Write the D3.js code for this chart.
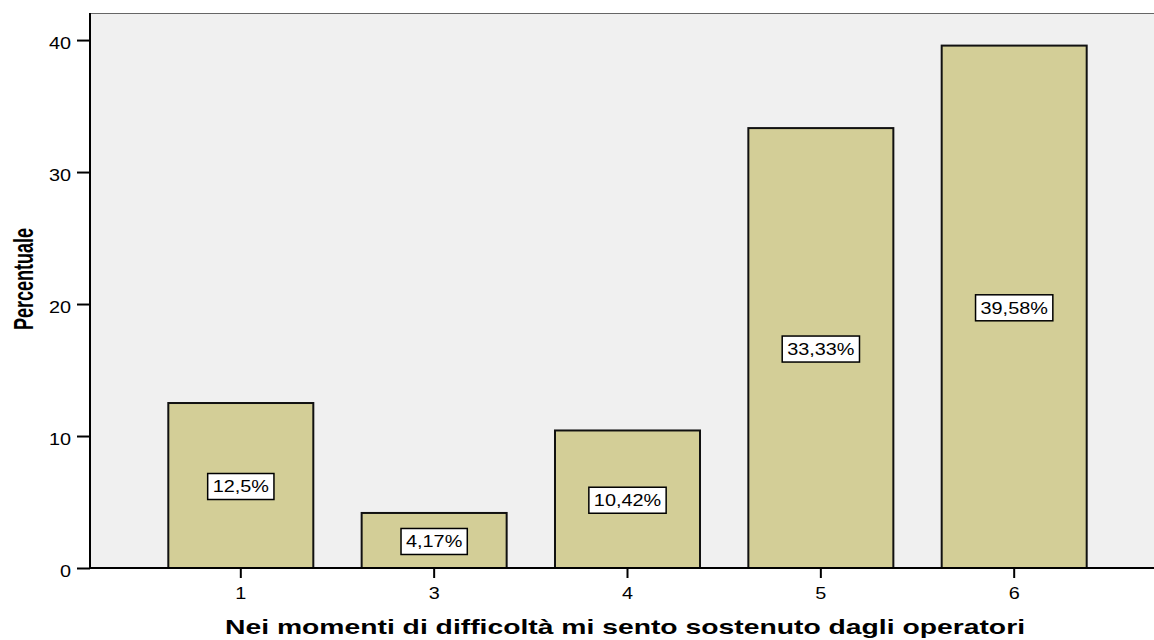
<!DOCTYPE html>
<html>
<head>
<meta charset="utf-8">
<script src="https://cdn.jsdelivr.net/npm/d3@7"></script>
<style>
  body { margin: 0; background: #fff; }
  text { font-family: "Liberation Sans", Arial, sans-serif; }
</style>
</head>
<body>
<div id="chart"></div>
<script>
// valori
const categorie = ["1", "3", "4", "5", "6"];
const percentuali = [12.5, 4.17, 10.42, 33.33, 39.58];
const etichette = ["12,5%", "4,17%", "10,42%", "33,33%", "39,58%"];
const yTicks = [0, 10, 20, 30, 40];

const width = 1154, height = 640;
const mLeft = 90, mTop = 13, mBottom = 568, mRight = 1165;
const stretch = 1.24; // il testo originale è allargato in orizzontale

// allarga il testo in orizzontale mantenendo l'ancoraggio
function allarga(sel, k) {
    sel.each(function() {
        const len = this.getComputedTextLength();
        d3.select(this)
            .attr("textLength", len * k)
            .attr("lengthAdjust", "spacingAndGlyphs");
    });
}

const svg = d3.select("#chart").append("svg")
    .attr("width", width)
    .attr("height", height);

const x = d3.scaleBand()
    .domain(categorie)
    .range([mLeft, mRight])
    .paddingInner(0.25)
    .paddingOuter(0.405);

const y = d3.scaleLinear()
    .domain([0, 42.05])
    .range([mBottom, mTop]);

// sfondo area grafico
svg.append("rect")
    .attr("x", mLeft).attr("y", mTop)
    .attr("width", width - mLeft).attr("height", mBottom - mTop)
    .attr("fill", "#f0f0f0");

svg.append("line")
    .attr("x1", mLeft).attr("x2", width)
    .attr("y1", mTop + 0.5).attr("y2", mTop + 0.5)
    .attr("stroke", "#666").attr("stroke-width", 1);

const data = categorie.map((c, i) => ({ cat: c, val: percentuali[i], lab: etichette[i] }));

svg.selectAll("rect.bar")
    .data(data)
    .enter().append("rect")
    .attr("class", "bar")
    .attr("x", d => x(d.cat))
    .attr("y", d => y(d.val))
    .attr("width", x.bandwidth())
    .attr("height", d => y(0) - y(d.val))
    .attr("fill", "#d3ce97")
    .attr("stroke", "#111")
    .attr("stroke-width", 2);

// etichette dentro le barre
const lab = svg.selectAll("g.lab")
    .data(data)
    .enter().append("g")
    .attr("class", "lab")
    .attr("transform", d => "translate(" + (x(d.cat) + x.bandwidth() / 2) + "," + (y(d.val / 2) + 1) + ")");

lab.append("text")
    .attr("text-anchor", "middle")
    .attr("dy", "0.36em")
    .style("font-size", "16px")
    .attr("fill", "#000")
    .text(d => d.lab)
    .call(allarga, stretch);

lab.each(function() {
    const g = d3.select(this);
    const w = g.select("text").node().getBBox().width;
    g.insert("rect", "text")
        .attr("x", -w / 2 - 5)
        .attr("y", -13)
        .attr("width", w + 10)
        .attr("height", 26)
        .attr("fill", "#fff")
        .attr("stroke", "#000")
        .attr("stroke-width", 1.5);
});

// asse y
const yAxis = svg.append("g")
    .attr("transform", "translate(" + mLeft + ",0)")
    .call(d3.axisLeft(y).tickValues(yTicks).tickSize(13).tickPadding(6));
yAxis.select(".domain").remove();
yAxis.selectAll(".tick line").attr("stroke", "#000").attr("stroke-width", 2);
yAxis.selectAll(".tick text")
    .style("font-size", "16px")
    .style("font-family", "'Liberation Sans', Arial, sans-serif")
    .attr("fill", "#000")
    .attr("dy", "0.5em")
    .call(allarga, stretch);

svg.append("line")
    .attr("x1", mLeft).attr("x2", mLeft)
    .attr("y1", mTop).attr("y2", mBottom + 1)
    .attr("stroke", "#000").attr("stroke-width", 2);

// asse x
const xAxis = svg.append("g")
    .attr("transform", "translate(0," + mBottom + ")")
    .call(d3.axisBottom(x).tickSize(10).tickPadding(10));
xAxis.select(".domain").remove();
xAxis.selectAll(".tick line").attr("stroke", "#000").attr("stroke-width", 2);
xAxis.selectAll(".tick text")
    .style("font-size", "16px")
    .style("font-family", "'Liberation Sans', Arial, sans-serif")
    .attr("fill", "#000")
    .call(allarga, stretch);

svg.append("line")
    .attr("x1", mLeft - 1).attr("x2", width)
    .attr("y1", mBottom).attr("y2", mBottom)
    .attr("stroke", "#000").attr("stroke-width", 2);

// titoli
svg.append("text")
    .attr("x", 625)
    .attr("y", 634)
    .attr("text-anchor", "middle")
    .attr("textLength", 800)
    .attr("lengthAdjust", "spacingAndGlyphs")
    .style("font-size", "21px")
    .style("font-weight", "bold")
    .text("Nei momenti di difficoltà mi sento sostenuto dagli operatori");

svg.append("text")
    .attr("transform", "translate(33,279) scale(" + stretch + ",1) rotate(-90)")
    .attr("text-anchor", "middle")
    .attr("textLength", 102)
    .attr("lengthAdjust", "spacingAndGlyphs")
    .style("font-size", "22px")
    .style("font-weight", "bold")
    .text("Percentuale");
</script>
</body>
</html>
